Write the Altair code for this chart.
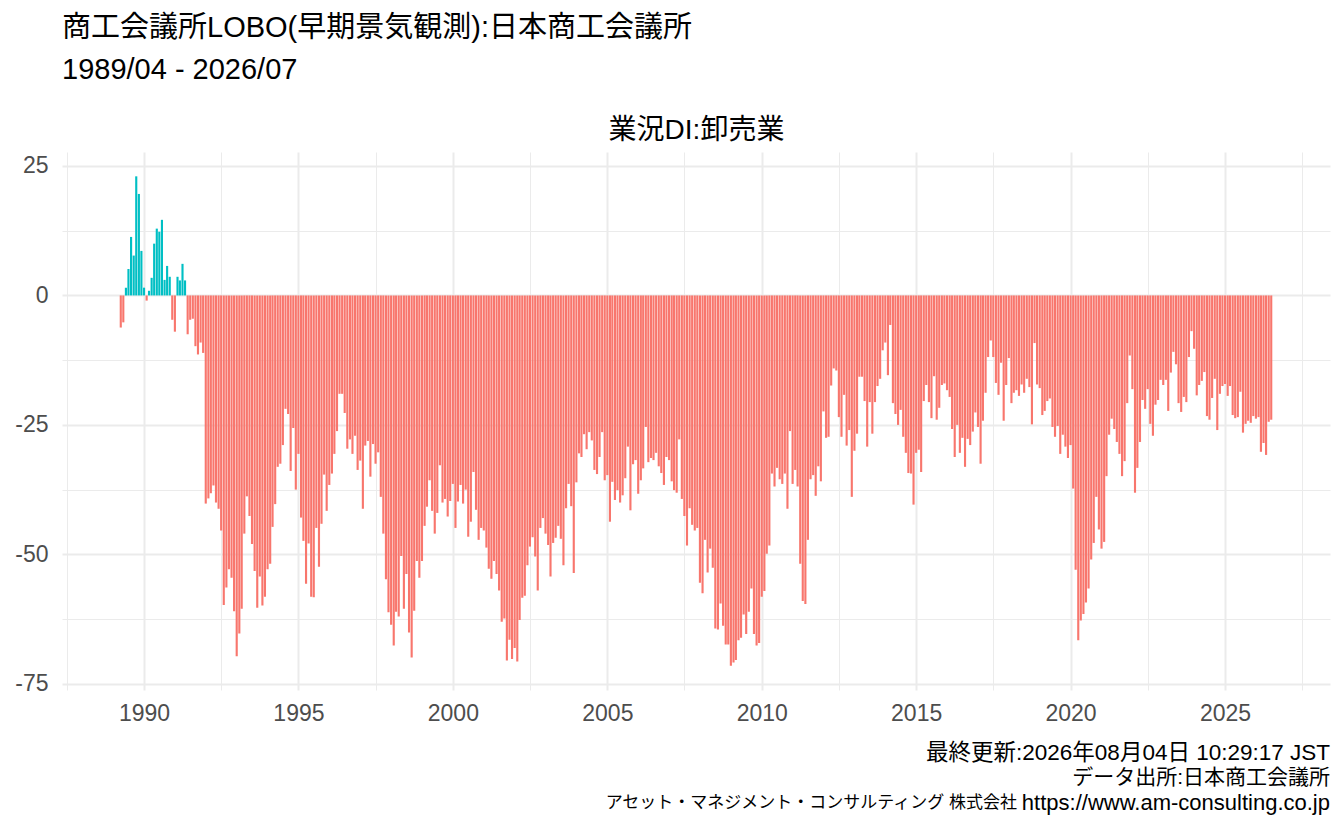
import altair as alt
import pandas as pd

# 商工会議所LOBO 業況DI:卸売業, monthly from 1989/04
di_1989 = [-6.2, -5.2, 1.5, 5.1, 11.3, 7.7, 23.0, 19.6, 8.6]  # Apr-Dec
di_1990 = [1.5, -1.0, 0.9, 3.4, 10.0, 12.9, 12.3, 14.6, 3.0, 5.7, 3.6, -4.7]
di_1991 = [-7.0, 3.6, 2.9, 6.1, 2.9, -7.5, -4.7, -4.5, -9.8, -11.4, -9.1, -11.1]
di_1992 = [-40.2, -39.2, -38.2, -36.7, -40.0, -41.2, -45.4, -59.8, -56.4, -52.9, -54.5, -61.0]
di_1993 = [-69.7, -65.3, -60.5, -46.0, -38.8, -42.6, -48.0, -53.2, -60.3, -54.3, -59.9, -58.2]
di_1994 = [-52.9, -51.8, -44.7, -40.3, -33.1, -32.5, -28.9, -21.9, -22.9, -33.9, -25.6, -37.5]
di_1995 = [-30.6, -42.9, -47.4, -55.7, -47.9, -58.2, -58.3, -44.9, -52.4, -44.1, -34.6, -41.6]
di_1996 = [-36.6, -34.4, -30.6, -26.2, -19.0, -19.0, -22.7, -29.6, -27.8, -30.6, -27.1, -33.7]
di_1997 = [-31.9, -41.2, -29.0, -28.1, -35.0, -28.7, -32.5, -30.3, -38.9, -46.0, -54.8, -61.2]
di_1998 = [-63.6, -67.6, -61.1, -62.0, -50.3, -60.5, -53.8, -65.1, -69.9, -60.9, -51.3, -54.5]
di_1999 = [-51.3, -44.5, -40.8, -35.7, -41.6, -46.0, -42.0, -32.8, -40.0, -39.3, -42.7, -39.7]
di_2000 = [-36.4, -44.9, -39.8, -36.6, -40.2, -37.5, -46.6, -43.7, -34.1, -41.4, -47.2, -44.9]
di_2001 = [-45.4, -48.7, -52.8, -54.7, -51.3, -53.8, -57.0, -63.0, -62.4, -70.5, -66.5, -70.2]
di_2002 = [-68.1, -70.7, -62.7, -58.4, -58.0, -52.1, -48.5, -46.7, -50.4, -57.0, -44.9, -43.0]
di_2003 = [-46.0, -48.2, -54.3, -47.8, -46.8, -44.5, -47.0, -52.1, -41.1, -36.4, -40.7, -53.6]
di_2004 = [-36.1, -30.5, -31.2, -26.8, -29.7, -26.4, -28.0, -33.7, -34.5, -31.2, -26.4, -35.7]
di_2005 = [-34.7, -43.7, -36.0, -39.5, -37.6, -40.0, -38.6, -35.3, -29.2, -41.5, -32.6, -31.8]
di_2006 = [-38.3, -35.7, -33.4, -25.4, -32.2, -31.4, -31.8, -30.4, -33.0, -34.3, -36.6, -31.2]
di_2007 = [-31.8, -35.9, -37.6, -38.1, -27.8, -39.3, -42.6, -48.3, -41.1, -44.3, -45.4, -44.9]
di_2008 = [-55.5, -57.5, -47.2, -53.5, -48.9, -52.6, -64.3, -64.5, -59.5, -63.8, -67.4, -67.4]
di_2009 = [-71.5, -70.9, -70.4, -66.6, -66.1, -61.6, -65.4, -61.1, -56.6, -65.4, -67.6, -67.1]
di_2010 = [-58.2, -57.1, -49.9, -48.3, -34.4, -36.9, -33.3, -35.5, -36.4, -34.4, -41.2, -26.2]
di_2011 = [-36.4, -33.7, -36.9, -51.8, -59.0, -59.6, -47.2, -35.5, -34.7, -38.7, -33.0, -35.9]
di_2012 = [-22.4, -27.5, -27.3, -17.4, -14.1, -14.5, -23.5, -27.3, -19.2, -29.0, -26.0, -38.9]
di_2013 = [-30.0, -26.7, -15.7, -15.7, -20.4, -29.2, -20.6, -26.7, -20.6, -17.5, -16.1, -10.6]
di_2014 = [-9.1, -15.4, -5.7, -20.8, -22.9, -25.0, -22.1, -27.3, -30.4, -34.3, -34.4, -40.4]
di_2015 = [-30.4, -29.8, -34.1, -20.4, -17.3, -20.6, -23.7, -15.6, -24.0, -21.7, -17.3, -17.0]
di_2016 = [-18.3, -19.6, -25.8, -31.2, -25.0, -30.4, -27.5, -33.1, -27.7, -28.9, -26.3, -22.6]
di_2017 = [-25.4, -32.5, -24.2, -18.8, -11.9, -8.7, -11.9, -16.9, -19.2, -13.0, -24.2, -17.3]
di_2018 = [-12.1, -20.8, -18.8, -18.3, -19.4, -17.2, -18.8, -16.1, -17.7, -24.9, -9.2, -17.2]
di_2019 = [-17.9, -23.1, -22.3, -20.4, -19.9, -25.4, -27.3, -25.2, -30.6, -26.9, -29.2, -31.4]
di_2020 = [-28.9, -37.3, -53.0, -66.6, -62.8, -61.5, -59.3, -56.6, -51.0, -47.8, -38.9, -45.2]
di_2021 = [-48.9, -47.6, -34.9, -26.9, -23.8, -25.8, -28.3, -30.6, -34.9, -32.0, -20.8, -11.6]
di_2022 = [-18.1, -38.1, -33.3, -28.3, -20.2, -21.9, -18.1, -24.8, -27.1, -21.1, -20.2, -16.3]
di_2023 = [-17.3, -16.3, -22.3, -14.9, -10.9, -13.3, -20.8, -22.5, -19.6, -20.6, -11.9, -6.9]
di_2024 = [-10.3, -19.3, -17.3, -16.5, -14.8, -23.3, -24.0, -19.8, -16.1, -26.0, -19.0, -17.5]
di_2025 = [-17.1, -19.4, -17.5, -23.1, -23.7, -23.5, -18.6, -26.5, -24.8, -24.2, -24.6, -23.3]
di_2026 = [-23.8, -23.5, -30.2, -28.5, -30.8, -24.4, -24.0]  # Jan-Jul

title_text = "商工会議所LOBO(早期景気観測):日本商工会議所"
subtitle_text = "1989/04 - 2026/07"
panel_label = "業況DI:卸売業"
caption_line1 = "最終更新:2026年08月04日 10:29:17 JST"
caption_line2 = "データ出所:日本商工会議所"
caption_line3_jp = "アセット・マネジメント・コンサルティング 株式会社"
caption_line3_url = "https://www.am-consulting.co.jp"
major_years = [1990, 1995, 2000, 2005, 2010, 2015, 2020, 2025]
minor_years = [1987, 1992, 1997, 2002, 2007, 2012, 2017, 2022, 2027]
y_major = [-75, -50, -25, 0, 25]
y_minor = [-62.5, -37.5, -12.5, 12.5]

values = (di_1989 + di_1990 + di_1991 + di_1992 + di_1993 + di_1994 + di_1995 + di_1996
          + di_1997 + di_1998 + di_1999 + di_2000 + di_2001 + di_2002 + di_2003 + di_2004
          + di_2005 + di_2006 + di_2007 + di_2008 + di_2009 + di_2010 + di_2011 + di_2012
          + di_2013 + di_2014 + di_2015 + di_2016 + di_2017 + di_2018 + di_2019 + di_2020
          + di_2021 + di_2022 + di_2023 + di_2024 + di_2025 + di_2026)
dates = pd.date_range("1989-04-01", periods=len(values), freq="MS")
half = pd.Timedelta(hours=12.6 * 24)
df = pd.DataFrame({
    "date": dates,
    "start": dates - half,
    "end": dates + half,
    "value": values,
})
df["sign"] = ["pos" if v > 0 else "neg" for v in values]

W, H = 1268, 538
FONT = "Liberation Sans, Noto Sans CJK JP, sans-serif"

xscale = alt.Scale(domain=[alt.DateTime(year=1987, month=5, date=7),
                           alt.DateTime(year=2028, month=5, date=26)])
yscale = alt.Scale(domain=[-76.2, 27.7], nice=False, zero=False)

bars = alt.Chart(df).mark_bar().encode(
    x=alt.X("start:T", scale=xscale, title=None,
            axis=alt.Axis(orient="bottom", grid=True,
                          values=[alt.DateTime(year=y, month=1, date=1) for y in major_years],
                          format="%Y", gridWidth=2, labelOverlap=False, labelFlush=False,
                          labelPadding=12)),
    x2="end:T",
    y=alt.Y("value:Q", scale=yscale, title=None,
            axis=alt.Axis(orient="left", grid=True, values=y_major, gridWidth=2,
                          labelExpr="toString(datum.value)", labelPadding=14)),
    y2=alt.datum(0),
    color=alt.Color("sign:N", scale=alt.Scale(domain=["neg", "pos"],
                                              range=["#F8766D", "#00BFC4"]), legend=None),
)

minor = alt.Chart(pd.DataFrame({"d": [pd.Timestamp("2000-01-01")], "v": [0]})).mark_point(
    opacity=0).encode(
    x=alt.X("d:T", scale=xscale, title=panel_label,
            axis=alt.Axis(orient="top", grid=True,
                          values=[alt.DateTime(year=y, month=7, date=2) for y in minor_years],
                          labels=False, gridWidth=1, titleFontSize=28, titleFontWeight="normal",
                          titleColor="black", titleFont=FONT, titlePadding=8)),
    y=alt.Y("v:Q", scale=yscale, title=None,
            axis=alt.Axis(orient="right", grid=True, values=y_minor, labels=False, gridWidth=1)),
)

def caption(text, size, row, dx=0):
    return alt.Chart(alt.Data(values=[{}])).mark_text(
        align="right", baseline="middle", fontSize=size, font=FONT, color="black", dx=dx
    ).encode(x=alt.value(W), y=alt.value(H + 63 + 25 * row), text=alt.value(text))

caps = [
    caption(caption_line1, 22.5, 0),
    caption(caption_line2, 21, 1),
    caption(caption_line3_url, 22, 2),
    caption(caption_line3_jp, 17, 2, dx=-313),
]

chart = alt.layer(bars, minor, *caps).resolve_axis(
    x="independent", y="independent"
).properties(
    width=W, height=H,
    title=alt.TitleParams(
        text=title_text, subtitle=subtitle_text, anchor="start", frame="group",
        fontSize=29, subtitleFontSize=29, font=FONT, subtitleFont=FONT,
        fontWeight="normal", color="black", subtitleColor="black",
        subtitlePadding=13, offset=31,
    ),
    padding={"left": 6, "top": 6, "right": 5, "bottom": 5},
).configure_view(strokeWidth=0).configure_axis(
    domain=False, ticks=False, tickSize=0, labelFont="Liberation Sans", labelFontSize=23,
    labelColor="#4D4D4D", gridColor="#EBEBEB",
)

chart.save("out.html", embed_options={"renderer": "svg", "actions": False})
